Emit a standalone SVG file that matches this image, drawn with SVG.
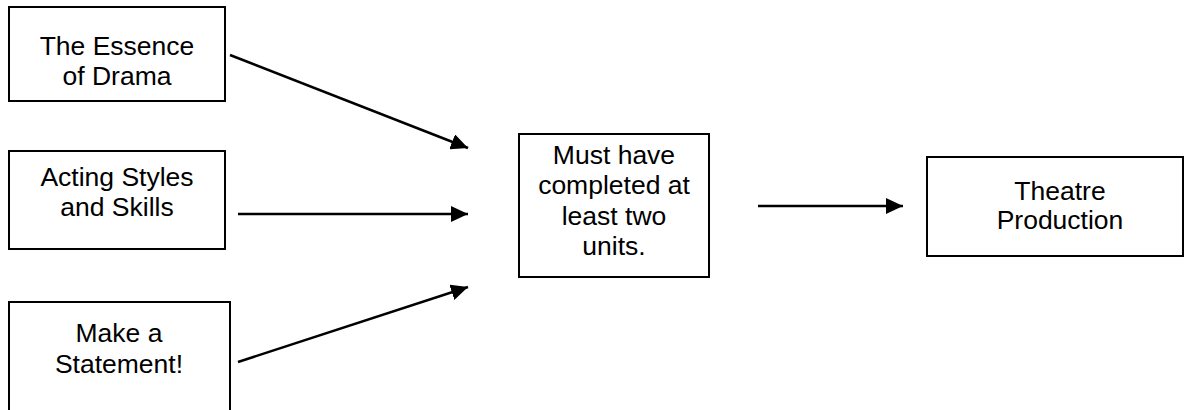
<svg xmlns="http://www.w3.org/2000/svg" width="1186" height="410" viewBox="0 0 1186 410">
<style>
.box{fill:#fff;stroke:#000;stroke-width:2}
.lbl{font-family:"Liberation Sans",Arial,sans-serif;font-size:26.5px;fill:#000;text-anchor:middle}
.conn{stroke:#000;stroke-width:2.5;fill:none;marker-end:url(#ah)}
</style>
<defs>
<marker id="ah" markerUnits="userSpaceOnUse" markerWidth="18" markerHeight="16" refX="17" refY="8" orient="auto">
<path d="M0,0 L17,8 L0,16 z" fill="#000"/>
</marker>
</defs>
<rect width="1186" height="410" fill="#fff"/>
<g id="n1">
<rect class="box" x="9" y="7" width="216" height="94"/>
<text class="lbl" x="117" y="55">The Essence</text>
<text class="lbl" x="117" y="85">of Drama</text>
</g>
<g id="n2">
<rect class="box" x="9" y="151" width="216" height="98"/>
<text class="lbl" x="117" y="186">Acting Styles</text>
<text class="lbl" x="117" y="216">and Skills</text>
</g>
<g id="n3">
<rect class="box" x="9" y="302" width="221" height="120"/>
<text class="lbl" x="119" y="342">Make a</text>
<text class="lbl" x="119" y="373">Statement!</text>
</g>
<g id="n4">
<rect class="box" x="519" y="134" width="190" height="143"/>
<text class="lbl" x="614" y="164">Must have</text>
<text class="lbl" x="614" y="194">completed at</text>
<text class="lbl" x="614" y="225">least two</text>
<text class="lbl" x="614" y="255">units.</text>
</g>
<g id="n5">
<rect class="box" x="927" y="157" width="256" height="99"/>
<text class="lbl" x="1060" y="200">Theatre</text>
<text class="lbl" x="1060" y="229">Production</text>
</g>
<g id="connectors">
<line class="conn" x1="230" y1="55" x2="468" y2="148"/>
<line class="conn" x1="238" y1="214" x2="468" y2="214"/>
<line class="conn" x1="238" y1="362" x2="468" y2="287"/>
<line class="conn" x1="758" y1="206" x2="903" y2="206"/>
</g>
</svg>
